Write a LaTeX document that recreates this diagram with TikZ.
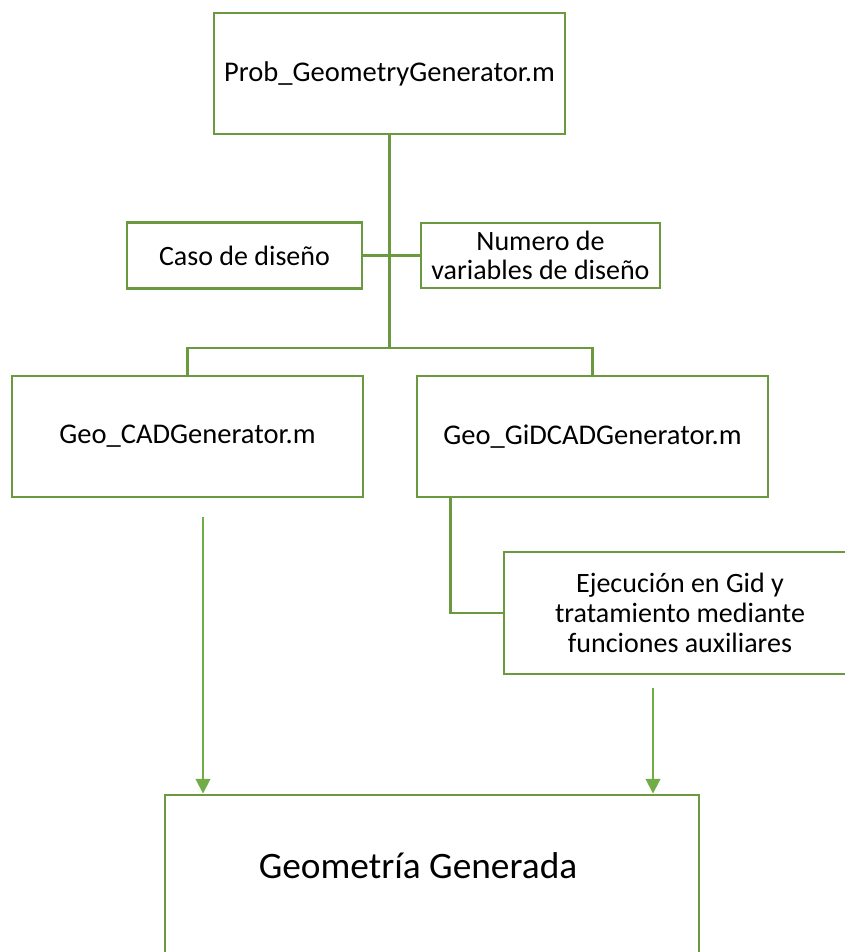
\documentclass[tikz,border=0pt]{standalone}
\usepackage{fontspec}
\setmainfont{Carlito}
\usetikzlibrary{arrows.meta,calc}
\definecolor{boxgreen}{RGB}{106,153,64}
\definecolor{arrowgreen}{RGB}{112,173,71}
\begin{document}
\begin{tikzpicture}[x=0.75pt,y=-0.75pt,
  box/.style={draw=boxgreen,line width=2.2pt,fill=white,inner sep=0pt,align=center},
  bigtxt/.style={font=\fontsize{21.4}{25}\selectfont},
  smalltxt/.style={font=\fontsize{21}{22.3}\selectfont},
  link/.style={draw=boxgreen,line width=2.2pt},
  flow/.style={draw=arrowgreen,line width=1.4pt,-{Triangle[width=11pt,length=11pt]}}]
\useasboundingbox (0,0) rectangle (845,952);
\clip (0,0) rectangle (845,952);

% main script and its inputs
\node[box,bigtxt,minimum width=263.25pt,minimum height=90.75pt] (prob) at (389.5,73.5) {Prob\_GeometryGenerator.m};
\node[box,smalltxt,minimum width=176.25pt,minimum height=49.5pt] (caso) at (244.5,255.5) {Caso de diseño};
\node[box,smalltxt,minimum width=179.25pt,minimum height=48.75pt] (nvar) at (540.5,255.5) {Numero de\\variables de diseño};

% geometry generators
\node[box,bigtxt,minimum width=263.25pt,minimum height=90.75pt] (cad) at (187.5,436.5) {Geo\_CADGenerator.m};
\node[box,bigtxt,minimum width=263.25pt,minimum height=90.75pt] (gid) at (592.5,436.5) {Geo\_GiDCADGenerator.m};
\node[box,smalltxt,minimum width=264pt,minimum height=91.5pt] (exec) at (680,613) {Ejecución en Gid y\\tratamiento mediante\\funciones auxiliares};

% result
\node[box,minimum width=400.5pt,minimum height=127.5pt] (geo) at (432,880) {};
\node[font=\fontsize{28}{34}\selectfont,inner sep=0pt] (geotxt) at (418,866) {Geometría Generada};

% tree connectors
\coordinate (hub) at (389.5,348);
\draw[link] (prob.south) -- (hub);
\draw[link] (caso.east) -- (nvar.west);
\draw[link] (cad.north) |- (hub) -| (gid.north);
\coordinate (gidout) at ($(gid.south west)+(35,0)$);
\draw[link] (gidout) |- (exec.west);

% flow into the result
\coordinate (s1) at (203,517);
\coordinate (s2) at (653,688);
\draw[flow] (s1) -- (s1 |- geo.north);
\draw[flow] (s2) -- (s2 |- geo.north);
\end{tikzpicture}
\end{document}
